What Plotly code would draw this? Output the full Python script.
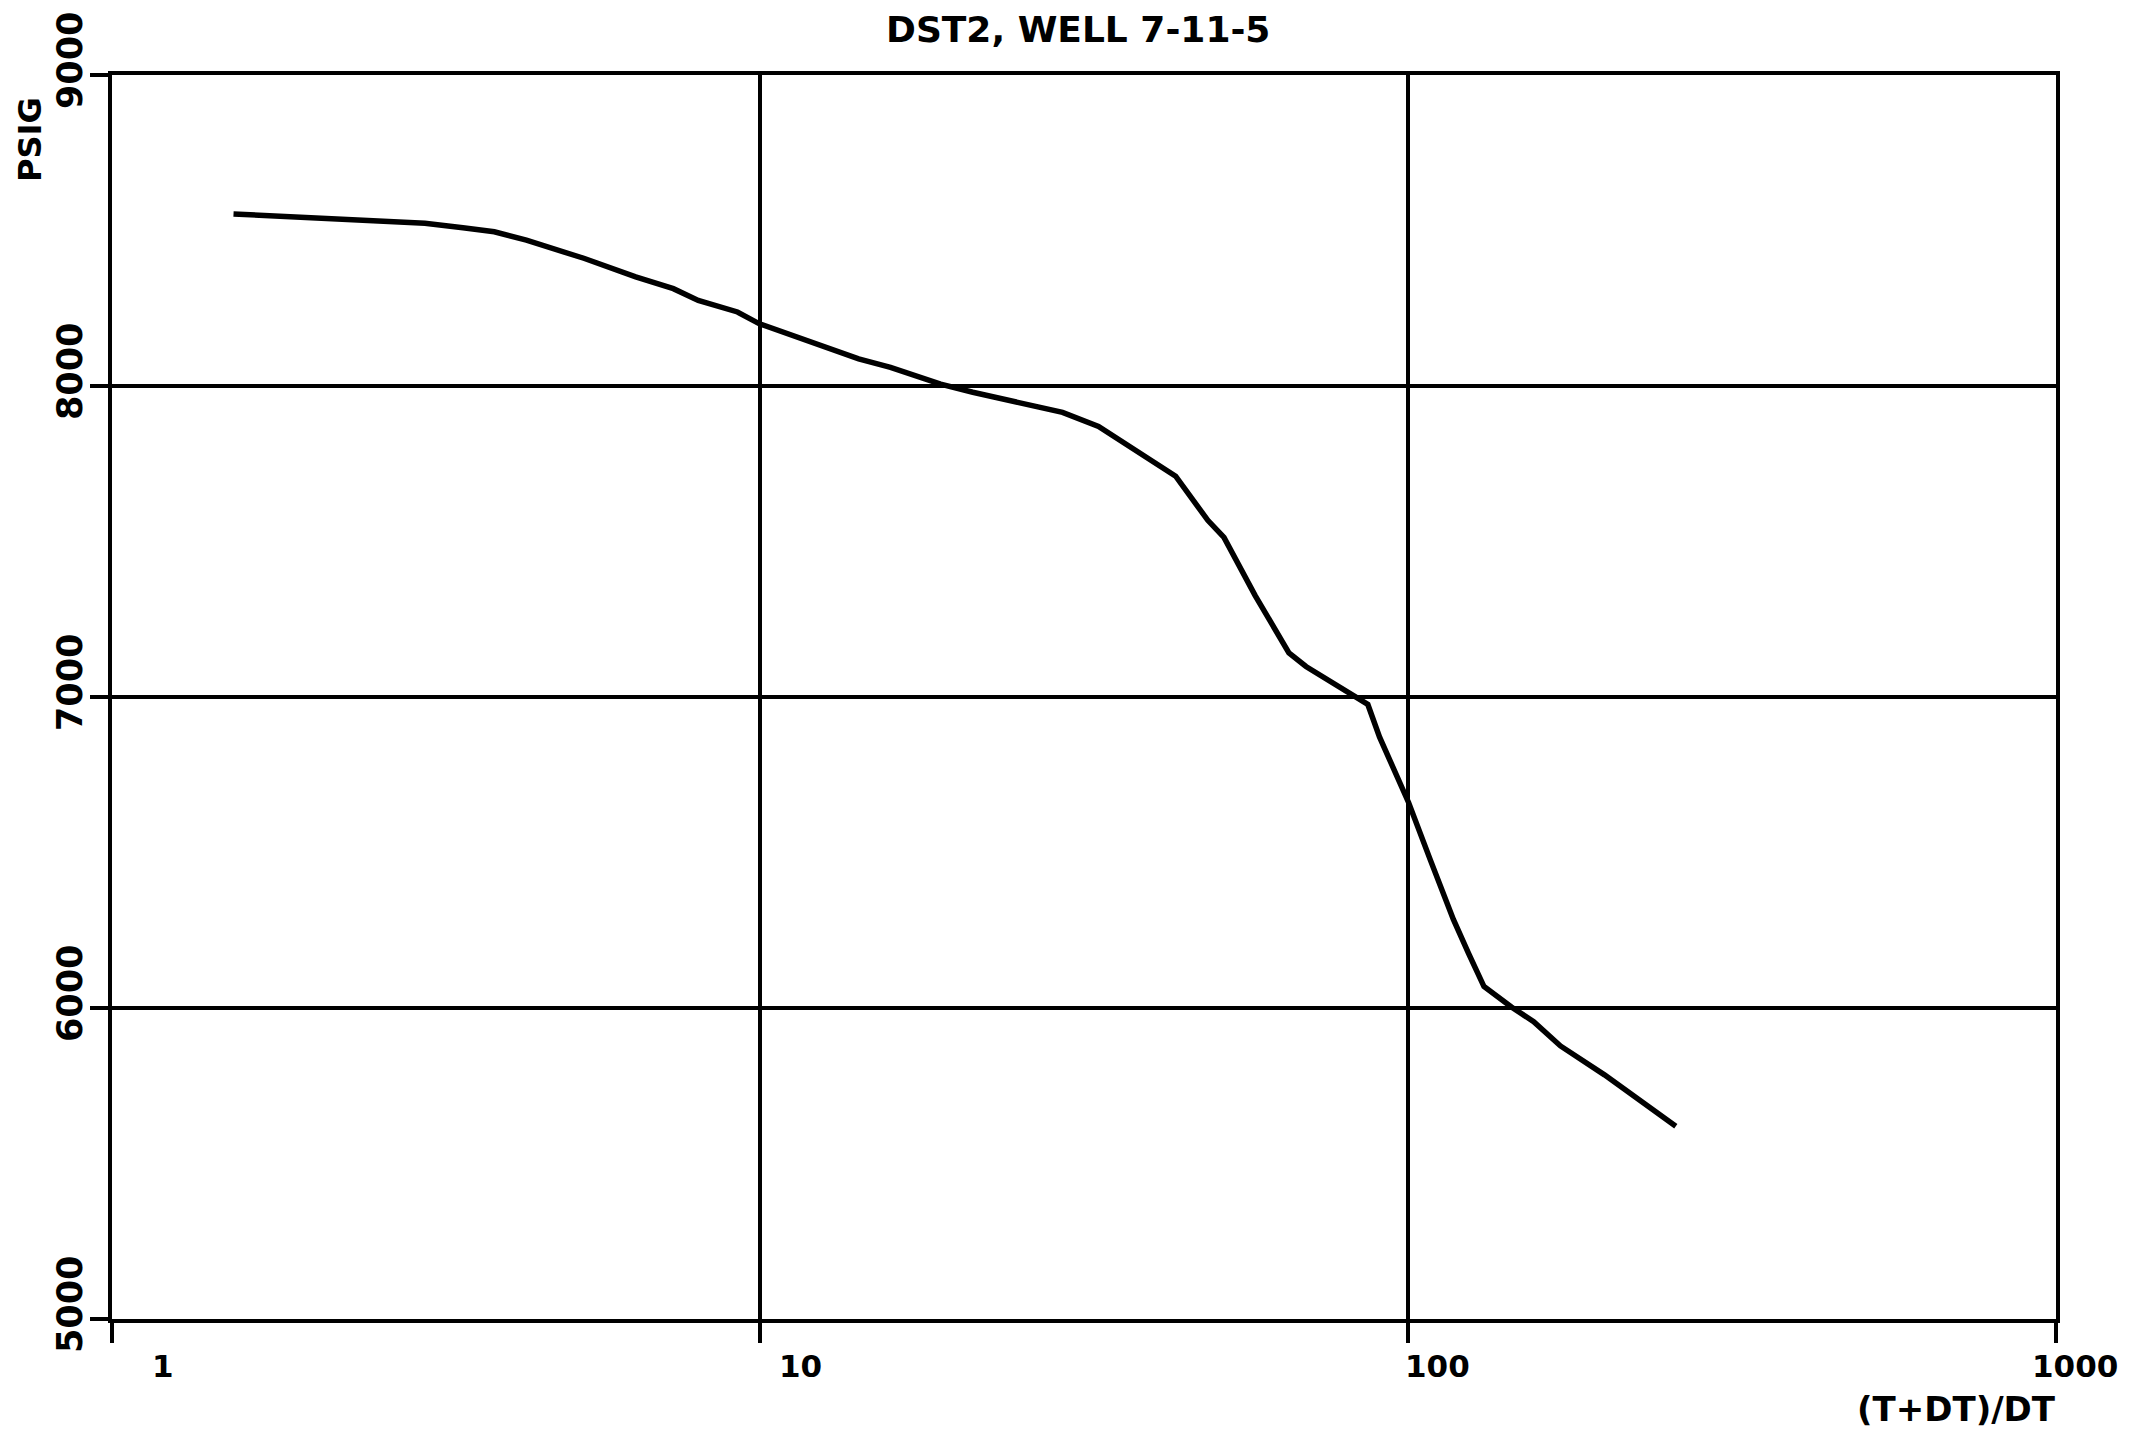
import math
import plotly.graph_objects as go

# Data
ratio = [1.54, 2.60, 3.04, 3.48, 3.89, 4.36, 5.36, 6.43, 7.35, 8.03, 9.23, 9.98,
         12.4, 14.2, 15.9, 19.0, 21.3, 29.3, 33.3, 43.8, 49.1, 52.0, 58.1, 61.8,
         65.5, 69.6, 82.2, 86.7, 90.4, 100.2, 108.4, 117.5, 124.0, 131.0, 144.4,
         156.3, 171.9, 201.0, 259.0]
psig = [8553, 8533, 8523, 8509, 8496, 8469, 8410, 8351, 8313, 8275, 8238, 8200,
        8130, 8087, 8060, 8006, 7980, 7915, 7870, 7710, 7568, 7513, 7326, 7232,
        7142, 7098, 7004, 6976, 6871, 6661, 6473, 6285, 6176, 6069, 6003,
        5956, 5878, 5785, 5620]

x_ticks = [1, 10, 100, 1000]
x_tick_labels = ["1", "10", "100", "1000"]
y_ticks = [5000, 6000, 7000, 8000, 9000]
y_tick_labels = ["5000", "6000", "7000", "8000", "9000"]

title = "DST2, WELL 7-11-5"
x_title = "(T+DT)/DT"
y_title = "PSIG"

FONT = "DejaVu Sans"
# the page body keeps a default 8px margin, so the figure is 8px smaller
W, H = 2143, 1426
L, R, T, B = 104, 95, 67, 115

fig = go.Figure()
fig.add_trace(go.Scatter(x=ratio, y=psig, mode="lines",
                         line=dict(color="black", width=5.5), showlegend=False,
                         hoverinfo="skip"))

fig.update_layout(
    width=W, height=H,
    margin=dict(l=L, r=R, t=T, b=B, pad=0),
    paper_bgcolor="white", plot_bgcolor="white",
    showlegend=False,
)
fig.update_xaxes(type="log", range=[0, 3], tickvals=x_ticks, showticklabels=False,
                 showgrid=True, gridcolor="black", gridwidth=4,
                 showline=True, linecolor="black", linewidth=4, mirror=True,
                 ticks="outside", ticklen=20, tickwidth=4, tickcolor="black",
                 zeroline=False)
fig.update_yaxes(range=[5000, 9000], tickvals=y_ticks, showticklabels=False,
                 showgrid=True, gridcolor="black", gridwidth=4,
                 showline=True, linecolor="black", linewidth=4, mirror=True,
                 ticks="outside", ticklen=18, tickwidth=4, tickcolor="black",
                 zeroline=False)

annotations = []
for v, lab in zip(x_ticks, x_tick_labels):
    annotations.append(dict(x=math.log10(v), y=5000, xref="x", yref="y",
                            text="<b>" + lab + "</b>", showarrow=False,
                            xanchor="right", yanchor="top", xshift=64, yshift=-27,
                            font=dict(family=FONT, size=31, color="black")))
for v, lab in zip(y_ticks, y_tick_labels):
    annotations.append(dict(x=0, y=v, xref="paper", yref="y",
                            text="<b>" + lab + "</b>", showarrow=False,
                            textangle=-90, xanchor="center", yanchor="middle",
                            xshift=-42, yshift=14,
                            font=dict(family=FONT, size=35, color="black")))
annotations.append(dict(x=0.497, y=1, xref="paper", yref="paper",
                        text="<b>" + title + "</b>", showarrow=False,
                        xanchor="center", yanchor="middle", yshift=46,
                        font=dict(family=FONT, size=36, color="black")))
annotations.append(dict(x=1, y=0, xref="paper", yref="paper",
                        text="<b>" + x_title + "</b>", showarrow=False,
                        xanchor="right", yanchor="middle", yshift=-90, xshift=2,
                        font=dict(family=FONT, size=34, color="black")))
annotations.append(dict(x=0, y=1, xref="paper", yref="paper",
                        text="<b>" + y_title + "</b>", showarrow=False,
                        textangle=-90, xanchor="center", yanchor="middle",
                        xshift=-82, yshift=-65,
                        font=dict(family=FONT, size=32, color="black")))
fig.update_layout(annotations=annotations)

fig.write_html("out.html")
